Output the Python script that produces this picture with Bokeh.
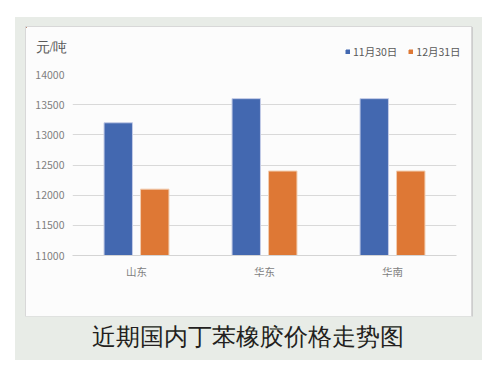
from bokeh.plotting import figure
from bokeh.models import (ColumnDataSource, FactorRange, Range1d, Legend, LegendItem,
                          FixedTicker, Spacer)
from bokeh.transform import dodge
from bokeh.layouts import column, row
from bokeh.embed import file_html
from bokeh.resources import INLINE

# ---- data ----
regions = ["山东", "华东", "华南"]
series_names = ["11月30日", "12月31日"]
nov30 = [13200, 13600, 13600]
dec31 = [12100, 12400, 12400]
y_ticks = [11000, 11500, 12000, 12500, 13000, 13500, 14000]
unit_label = "元/吨"
chart_title = "近期国内丁苯橡胶价格走势图"

# ---- style ----
FONT = "Noto Sans CJK SC"
BG = "#e8ece7"
PANEL = "#fcfcfc"
BLUE = "#4368b0"
BLUE_EDGE = "#c3cbe6"
ORANGE = "#de7835"
ORANGE_EDGE = "#f2cdb0"
TICK_COLOR = "#7f7f7f"

src = ColumnDataSource(dict(region=regions, nov=nov30, dec=dec31))

# ---- header (unit label + legend) ----
hd = figure(width=445, height=35, x_range=Range1d(0, 445), y_range=Range1d(0, 35),
            x_axis_location=None, y_axis_location=None, output_backend="svg",
            toolbar_location=None, min_border=0, background_fill_color=PANEL,
            border_fill_color=PANEL, outline_line_color=None, margin=0,
            frame_align=False)
hd.xgrid.visible = False
hd.ygrid.visible = False
# legend proxies: zero-size bars at the data values (outside the header's view)
d1 = hd.vbar(x=0, top="nov", bottom="nov", width=0, source=src,
             fill_color=BLUE, line_color=BLUE)
d2 = hd.vbar(x=0, top="dec", bottom="dec", width=0, source=src,
             fill_color=ORANGE, line_color=ORANGE)
hd.text(x=[9], y=[15], text=[unit_label], text_font=FONT, text_font_size="14px",
        text_color="#595959", text_align="left", text_baseline="middle")
legend = Legend(items=[LegendItem(label=series_names[0], renderers=[d1], index=0),
                       LegendItem(label=series_names[1], renderers=[d2], index=0)],
                orientation="horizontal", location=(319, 3), padding=0, margin=0,
                spacing=11, glyph_width=5, glyph_height=5, label_standoff=3,
                label_height=12, label_width=10,
                label_text_font=FONT, label_text_font_size="10.5px",
                label_text_color="#595959",
                border_line_color=None, background_fill_color=None)
hd.add_layout(legend)

# ---- main chart ----
p = figure(x_range=FactorRange(factors=regions, range_padding=0),
           y_range=Range1d(y_ticks[0], y_ticks[-1]),
           width=445, height=254, output_backend="svg", toolbar_location=None,
           min_border_left=46, min_border_right=15, min_border_top=12, min_border_bottom=61,
           background_fill_color=PANEL, border_fill_color=PANEL, outline_line_color=None,
           margin=0, frame_align=False)

r1 = p.vbar(x=dodge("region", -0.1426, range=p.x_range), top="nov", bottom=y_ticks[0],
            width=0.222, source=src, fill_color=BLUE, line_color=BLUE_EDGE, line_width=1)
r2 = p.vbar(x=dodge("region", 0.1426, range=p.x_range), top="dec", bottom=y_ticks[0],
            width=0.222, source=src, fill_color=ORANGE, line_color=ORANGE_EDGE, line_width=1)

p.yaxis.ticker = FixedTicker(ticks=y_ticks)
p.yaxis.axis_line_color = None
p.yaxis.major_tick_line_color = None
p.yaxis.minor_tick_line_color = None
p.yaxis.major_tick_out = 0
p.yaxis.minor_tick_out = 0
p.yaxis.major_label_standoff = 8
p.yaxis.major_label_text_font = FONT
p.yaxis.major_label_text_font_size = "10.5px"
p.yaxis.major_label_text_color = TICK_COLOR

p.xaxis.axis_line_color = "#d4d4d4"
p.xaxis.major_tick_line_color = None
p.xaxis.minor_tick_line_color = None
p.xaxis.major_tick_out = 0
p.xaxis.minor_tick_out = 0
p.xaxis.major_label_standoff = 8
p.xaxis.major_label_text_font = FONT
p.xaxis.major_label_text_font_size = "10.5px"
p.xaxis.major_label_text_color = TICK_COLOR

p.xgrid.grid_line_color = None
p.ygrid.grid_line_color = "#d9d9d9"
p.ygrid.grid_line_width = 1

panel = column(hd, p, margin=(10, 11, 0, 11),
               styles={"background-color": PANEL,
                       "box-shadow": "0 0 0 1px #d8d8d8, 1px 1px 0 1px #cdcdcd"})

# ---- bottom title ----
t = figure(width=467, height=44, x_range=Range1d(0, 467), y_range=Range1d(0, 44),
           x_axis_location=None, y_axis_location=None, output_backend="svg",
           toolbar_location=None, min_border=0, background_fill_color=BG,
           border_fill_color=BG, outline_line_color=None, margin=0, frame_align=False)
t.xgrid.visible = False
t.ygrid.visible = False
t.text(x=[232.5], y=[24], text=[chart_title], text_font=FONT, text_font_size="24px",
       text_color="#231f20", text_align="center", text_baseline="middle")

outer = column(panel, t, styles={"background-color": BG})
root = column(Spacer(width=482, height=17), row(Spacer(width=15, height=343), outer))

with open("out.html", "w") as f:
    f.write(file_html(root, INLINE))
